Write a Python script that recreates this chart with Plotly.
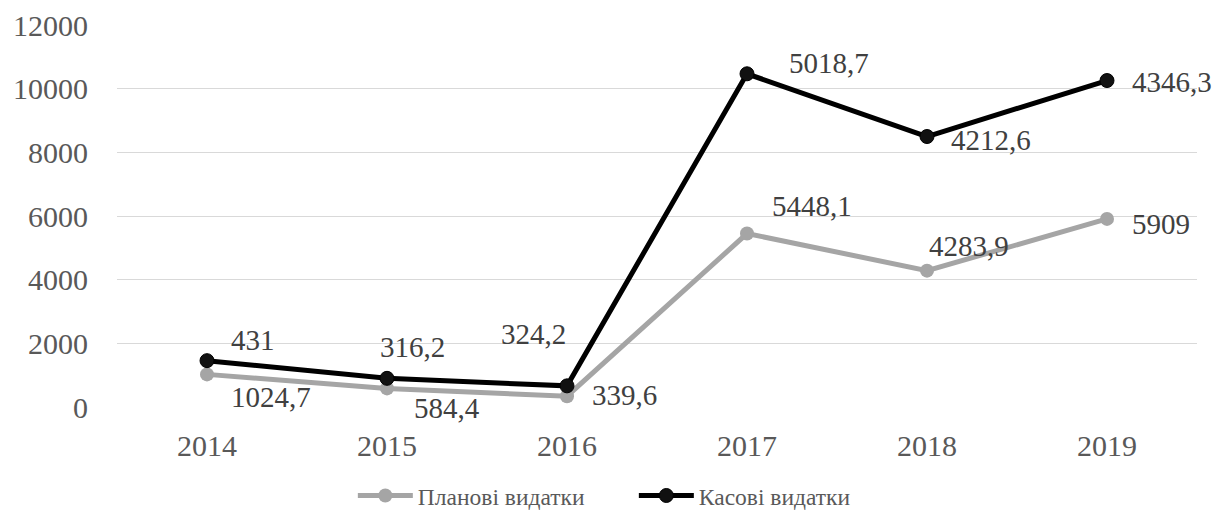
import numpy as np
import plotly.graph_objects as go

years = ["2014", "2015", "2016", "2017", "2018", "2019"]
plan = [1024.7, 584.4, 339.6, 5448.1, 4283.9, 5909]
cash = [431, 316.2, 324.2, 5018.7, 4212.6, 4346.3]
plan_labels = ["1024,7", "584,4", "339,6", "5448,1", "4283,9", "5909"]
cash_labels = ["431", "316,2", "324,2", "5018,7", "4212,6", "4346,3"]
y_ticks = [0, 2000, 4000, 6000, 8000, 10000, 12000]
series_names = ["Планові видатки", "Касові видатки"]

FONT = "Liberation Serif"
GREY = "#A5A5A5"
BLACK = "#000000"

fig = go.Figure()
fig.add_trace(go.Scatter(
    x=years, y=plan, name=series_names[0], stackgroup="s", fill="none",
    mode="lines+markers", line=dict(color=GREY, width=5),
    marker=dict(color=GREY, size=14), hoverinfo="skip"))
fig.add_trace(go.Scatter(
    x=years, y=cash, name=series_names[1], stackgroup="s", fill="none",
    mode="lines+markers", line=dict(color=BLACK, width=5),
    marker=dict(color="#111111", size=14, line=dict(color=BLACK, width=1)),
    hoverinfo="skip"))

total = np.array(plan) + np.array(cash)

# label offsets (px): (xshift, yshift, xanchor)
plan_off = [(22, -23, "left"), (25, -20, "left"), (23, 1, "left"),
            (23, 28, "left"), (0, 25, "left"), (23, -5, "left")]
cash_off = [(22, 21, "left"), (-9, 31, "left"), (1, 52, "right"),
            (40, 11, "left"), (22, -3, "left"), (23, -1, "left")]

for i in range(len(years)):
    dx, dy, xa = plan_off[i]
    fig.add_annotation(x=i, y=float(plan[i]), text=plan_labels[i], showarrow=False,
                       xanchor=xa, yanchor="middle", xshift=dx, yshift=dy,
                       font=dict(family=FONT, size=29, color="#404040"))
    dx, dy, xa = cash_off[i]
    fig.add_annotation(x=i, y=float(total[i]), text=cash_labels[i], showarrow=False,
                       xanchor=xa, yanchor="middle", xshift=dx, yshift=dy,
                       font=dict(family=FONT, size=29, color="#404040"))

fig.update_layout(
    width=1226, height=510,
    margin=dict(l=117, r=29, t=25, b=103),
    paper_bgcolor="white", plot_bgcolor="white",
    font=dict(family=FONT, color="#595959"),
    showlegend=True,
    legend=dict(orientation="h", xref="container", x=0.517, xanchor="center",
                yref="container", y=0.028, yanchor="middle",
                itemwidth=55, entrywidth=211, tracegroupgap=0,
                font=dict(family=FONT, size=23.5, color="#595959"),
                itemclick=False, itemdoubleclick=False),
)
fig.update_xaxes(type="category", range=[-0.5, 5.5], showgrid=False,
                 showline=False, zeroline=False, ticks="", automargin=False,
                 tickfont=dict(family=FONT, size=30, color="#595959"),
                 ticklabelstandoff=18)
fig.update_yaxes(range=[0, 12000], tickvals=y_ticks,
                 ticktext=[str(v) for v in y_ticks], automargin=False,
                 showgrid=True, gridcolor="#D9D9D9", gridwidth=1.3,
                 zeroline=False, showline=False, ticks="",
                 tickfont=dict(family=FONT, size=30, color="#595959"),
                 ticklabelstandoff=28)

fig.write_html("out.html")
